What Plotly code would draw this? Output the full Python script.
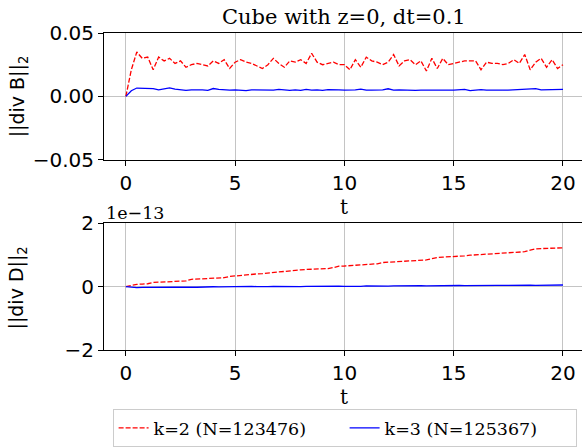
import plotly.graph_objects as go

# time grid, dt = 0.25 between plotted samples
t = [round(0.25 * i, 2) for i in range(81)]

# ||div B||_2
divB_k2 = [0, 0.021, 0.035, 0.030, 0.031, 0.021, 0.031, 0.028, 0.030, 0.026,
           0.028, 0.023, 0.025, 0.026, 0.025, 0.024, 0.028, 0.026, 0.029, 0.022,
           0.027, 0.029, 0.027, 0.026, 0.024, 0.022, 0.025, 0.030, 0.026, 0.023,
           0.028, 0.027, 0.029, 0.026, 0.034, 0.027, 0.025, 0.026, 0.027, 0.025,
           0.025, 0.021, 0.029, 0.023, 0.031, 0.028, 0.027, 0.025, 0.027, 0.033,
           0.024, 0.028, 0.029, 0.025, 0.028, 0.020, 0.030, 0.022, 0.030, 0.025,
           0.026, 0.027, 0.028, 0.028, 0.028, 0.021, 0.027, 0.026, 0.026, 0.025,
           0.026, 0.029, 0.026, 0.033, 0.021, 0.027, 0.030, 0.023, 0.029, 0.022,
           0.025]
divB_k3 = [0, 0.0045, 0.0066, 0.0064, 0.0066, 0.0062, 0.0052, 0.006, 0.0067, 0.0057,
           0.005, 0.0048, 0.0052, 0.0053, 0.0052, 0.0048, 0.0062, 0.0055, 0.005, 0.005,
           0.0052, 0.0047, 0.0045, 0.0052, 0.005, 0.0048, 0.0051, 0.0049, 0.0055, 0.005,
           0.0048, 0.0052, 0.0047, 0.0055, 0.0049, 0.0051, 0.0048, 0.0053, 0.005, 0.0052,
           0.005, 0.0049, 0.0051, 0.0058, 0.0049, 0.005, 0.0048, 0.0052, 0.006, 0.0049,
           0.0051, 0.0048, 0.005, 0.0047, 0.0049, 0.005, 0.0048, 0.0052, 0.0049, 0.005,
           0.0049, 0.0051, 0.0055, 0.0046, 0.0052, 0.0054, 0.005, 0.0048, 0.0052, 0.0049,
           0.005, 0.0053, 0.0052, 0.0055, 0.0058, 0.0062, 0.0052, 0.0054, 0.0055, 0.0055,
           0.0055]

# ||div D||_2 in units of 1e-13
divD_k2 = [0, 0.04, 0.07, 0.08, 0.09, 0.13, 0.14, 0.14, 0.15, 0.16,
           0.166, 0.18, 0.23, 0.24, 0.245, 0.25, 0.26, 0.265, 0.28, 0.32,
           0.34, 0.35, 0.37, 0.38, 0.40, 0.41, 0.43, 0.45, 0.47, 0.49,
           0.51, 0.52, 0.53, 0.54, 0.545, 0.55, 0.56, 0.57, 0.60, 0.645,
           0.65, 0.66, 0.665, 0.67, 0.68, 0.69, 0.72, 0.76, 0.77, 0.78,
           0.80, 0.82, 0.83, 0.83, 0.83, 0.84, 0.88, 0.92, 0.93, 0.935,
           0.94, 0.955, 0.97, 0.99, 1.0, 1.02, 1.035, 1.045, 1.05, 1.06,
           1.07, 1.08, 1.09, 1.10, 1.15, 1.19, 1.20, 1.205, 1.21, 1.215,
           1.225]
divD_k3 = [0, -0.02, -0.03, -0.025, -0.02, -0.03, -0.02, -0.025, -0.02, -0.015,
           -0.02, -0.01, -0.015, -0.02, -0.01, -0.015, -0.005, -0.01, -0.005, 0.0,
           -0.01, 0.0, -0.005, 0.005, 0.0, -0.01, 0.0, 0.005, 0.0, 0.005,
           0.01, 0.005, 0.0, 0.005, 0.01, 0.005, 0.01, 0.005, 0.01, 0.015,
           0.01, 0.005, 0.015, 0.01, 0.02, 0.015, 0.01, 0.02, 0.015, 0.02,
           0.025, 0.02, 0.015, 0.025, 0.03, 0.02, 0.025, 0.03, 0.025, 0.03,
           0.03, 0.035, 0.03, 0.035, 0.04, 0.035, 0.04, 0.035, 0.04, 0.04,
           0.045, 0.04, 0.045, 0.05, 0.045, 0.04, 0.045, 0.05, 0.045, 0.05,
           0.05]

labels = ["k=2 (N=123476)", "k=3 (N=125367)"]

SANS = "DejaVu Sans"
SERIF = "DejaVu Serif"
red_line = dict(color="red", width=1.3, dash="5px,2px")
blue_line = dict(color="blue", width=1.3)

fig = go.Figure()
fig.add_trace(go.Scatter(x=t, y=divB_k2, mode="lines", line=red_line, name=labels[0],
                         xaxis="x", yaxis="y"))
fig.add_trace(go.Scatter(x=t, y=divB_k3, mode="lines", line=blue_line, name=labels[1],
                         xaxis="x", yaxis="y"))
fig.add_trace(go.Scatter(x=t, y=divD_k2, mode="lines", line=red_line, showlegend=False,
                         xaxis="x2", yaxis="y2"))
fig.add_trace(go.Scatter(x=t, y=divD_k3, mode="lines", line=blue_line, showlegend=False,
                         xaxis="x2", yaxis="y2"))

tickfont = dict(family=SANS, size=20, color="black")
xcommon = dict(range=[-1, 20.87], tickvals=[0, 5, 10, 15, 20], showgrid=True,
               gridcolor="#c4c4c4", gridwidth=1, zeroline=False, showline=True,
               linecolor="black", linewidth=1, mirror=True, ticks="outside",
               ticklen=5, tickcolor="black", tickfont=tickfont, automargin=False)
ycommon = dict(showgrid=True, gridcolor="#c4c4c4", gridwidth=1, zeroline=False,
               showline=True, linecolor="black", linewidth=1, ticks="outside",
               ticklen=5, tickcolor="black", tickfont=tickfont, automargin=False)

fig.update_layout(
    template="none",
    width=582, height=447,
    margin=dict(l=104, r=0, t=33, b=94, pad=0),
    paper_bgcolor="white", plot_bgcolor="white",
    xaxis=dict(xcommon, domain=[0, 1], anchor="y"),
    yaxis=dict(ycommon, domain=[0.6, 1], anchor="x", range=[-0.05, 0.05],
               tickvals=[-0.05, 0, 0.05], tickformat=".2f"),
    xaxis2=dict(xcommon, domain=[0, 1], anchor="y2"),
    yaxis2=dict(ycommon, domain=[0, 0.4], anchor="x2", range=[-2, 2],
                tickvals=[-2, 0, 2]),
    showlegend=True,
    legend=dict(orientation="h", x=0.018, xanchor="left", y=-0.1875, yanchor="top",
                bordercolor="#cccccc", borderwidth=1, bgcolor="white",
                font=dict(family=SERIF, size=17.5, color="black"),
                entrywidth=186, entrywidthmode="pixels"),
    annotations=[
        dict(text="Cube with z=0, dt=0.1", xref="paper", yref="paper", x=0.502, y=1.05,
             xanchor="center", yanchor="middle", showarrow=False,
             font=dict(family=SERIF, size=21, color="black")),
        dict(text="t", xref="paper", yref="paper", x=0.502, y=0.452,
             xanchor="center", yanchor="middle", showarrow=False,
             font=dict(family=SERIF, size=20, color="black")),
        dict(text="t", xref="paper", yref="paper", x=0.502, y=-0.148,
             xanchor="center", yanchor="middle", showarrow=False,
             font=dict(family=SERIF, size=20, color="black")),
        dict(text="||div B||<sub>2</sub>", xref="paper", yref="paper", x=-0.18, y=0.8,
             xanchor="center", yanchor="middle", textangle=-90, showarrow=False,
             font=dict(family=SANS, size=19, color="black")),
        dict(text="||div D||<sub>2</sub>", xref="paper", yref="paper", x=-0.18, y=0.197,
             xanchor="center", yanchor="middle", textangle=-90, showarrow=False,
             font=dict(family=SANS, size=19, color="black")),
        dict(text="1e\u221213", xref="paper", yref="paper", x=0.0, y=0.432,
             xanchor="left", yanchor="middle", showarrow=False,
             font=dict(family=SERIF, size=17.5, color="black")),
    ],
)

# drop the default 8px body margin so the figure sits at the page origin
fig.write_html("out.html", config={"displayModeBar": False},
               post_script="document.body.style.margin='0';")
